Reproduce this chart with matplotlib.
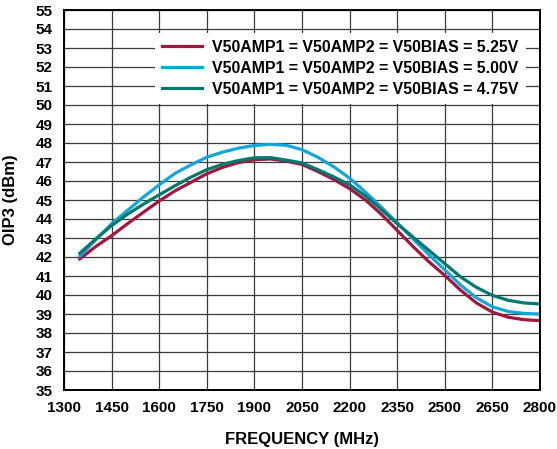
import matplotlib
matplotlib.use("Agg")
import matplotlib.pyplot as plt

plt.rcParams['font.family'] = ['Liberation Sans', 'DejaVu Sans']
plt.rcParams['font.weight'] = 'bold'

freq = [1350, 1400, 1450, 1500, 1550, 1600, 1650, 1700, 1750, 1800, 1850,
        1900, 1950, 2000, 2050, 2100, 2150, 2200, 2250, 2300, 2350, 2400,
        2450, 2500, 2550, 2600, 2650, 2700, 2750, 2800]
oip3_525 = [41.9, 42.55, 43.12, 43.75, 44.35, 44.95, 45.48, 45.93, 46.38, 46.72, 46.97,
            47.12, 47.16, 47.05, 46.87, 46.5, 46.08, 45.6, 45.0, 44.25, 43.4, 42.55,
            41.75, 41.03, 40.25, 39.58, 39.1, 38.83, 38.7, 38.65]
oip3_500 = [42.05, 42.9, 43.75, 44.45, 45.15, 45.8, 46.4, 46.85, 47.25, 47.52, 47.73,
            47.87, 47.93, 47.88, 47.65, 47.25, 46.75, 46.15, 45.42, 44.62, 43.8, 42.95,
            42.12, 41.32, 40.52, 39.85, 39.38, 39.13, 39.03, 39.0]
oip3_475 = [42.2, 42.95, 43.65, 44.25, 44.78, 45.27, 45.75, 46.2, 46.6, 46.88, 47.08,
            47.22, 47.23, 47.1, 46.95, 46.6, 46.22, 45.8, 45.22, 44.5, 43.75, 43.05,
            42.35, 41.65, 40.95, 40.4, 39.98, 39.72, 39.58, 39.53]

labels = ["V50AMP1 = V50AMP2 = V50BIAS = 5.25V",
          "V50AMP1 = V50AMP2 = V50BIAS = 5.00V",
          "V50AMP1 = V50AMP2 = V50BIAS = 4.75V"]
colors = ["#A3173F", "#12A6DC", "#007A70"]

xticks = list(range(1300, 2801, 150))
yticks = list(range(35, 56, 1))

fig = plt.figure(figsize=(5.57, 4.49), dpi=100)
ax = fig.add_axes([64/557, 1 - 390/449, 476/557, 380/449])

for y, c, lab in zip([oip3_525, oip3_500, oip3_475], colors, labels):
    ax.plot(freq, y, color=c, lw=2.3, label=lab, solid_joinstyle='round')

ax.set_xlim(1300, 2800)
ax.set_ylim(35, 55)
ax.set_xticks(xticks)
ax.set_yticks(yticks)
ax.tick_params(axis='x', length=0, labelsize=11, pad=8)
ax.tick_params(axis='y', length=0, labelsize=11, pad=8)
for t in ax.get_xticklabels() + ax.get_yticklabels():
    t.set_fontweight('bold')
ax.grid(True, color='#3a3a3a', lw=0.9)
ax.set_axisbelow(True)
for s in ax.spines.values():
    s.set_linewidth(1.4)
    s.set_color('black')

ax.set_xlabel("FREQUENCY (MHz)", fontsize=12, fontweight='bold')
ax.set_ylabel("OIP3 (dBm)", fontsize=12, fontweight='bold')
ax.xaxis.set_label_coords(0.5, -0.11)
ax.yaxis.set_label_coords(-0.097, 0.5)

leg = ax.legend(loc='upper left', bbox_to_anchor=(0.191, 0.94), fontsize=11.4,
                frameon=True, fancybox=False, framealpha=1, edgecolor='none',
                facecolor='white', handlelength=2.55, handletextpad=0.62,
                labelspacing=0.38, borderpad=0.45, borderaxespad=0)
for t in leg.get_texts():
    t.set_fontweight('bold')

fig.savefig("out.png", dpi=100)
